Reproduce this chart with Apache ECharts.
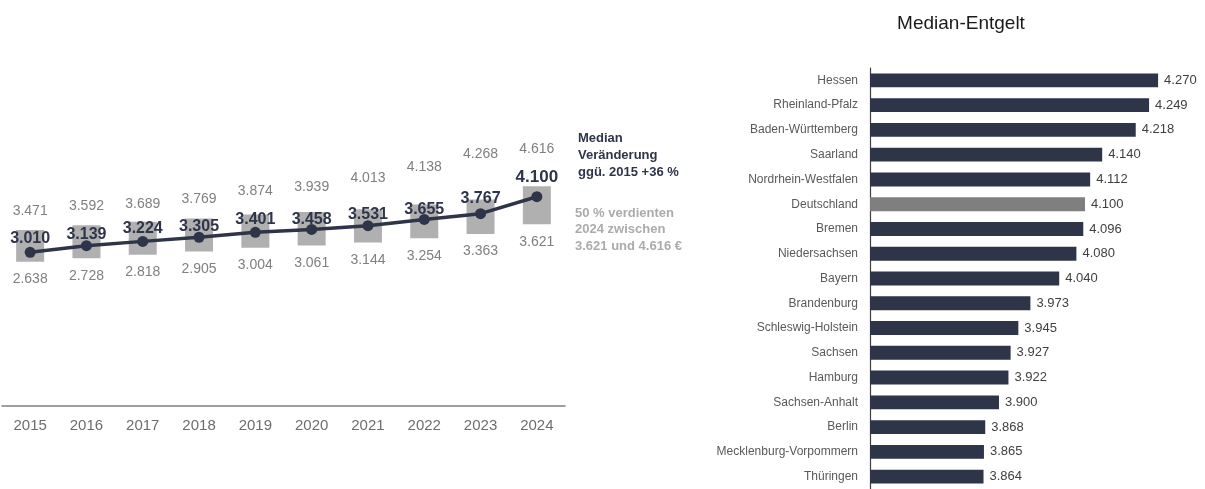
<!DOCTYPE html>
<html>
<head>
<meta charset="utf-8">
<script src="https://cdn.jsdelivr.net/npm/echarts@6/dist/echarts.min.js"></script>
<style>
  html, body { margin: 0; padding: 0; background: #fff; }
  #chart { width: 1205px; height: 489px; }
</style>
</head>
<body>
<div id="chart"></div>
<script>
// Entwicklung Median-Entgelt 2015-2024 (links)
var jahre   = ['2015', '2016', '2017', '2018', '2019', '2020', '2021', '2022', '2023', '2024'];
var median  = [3010, 3139, 3224, 3305, 3401, 3458, 3531, 3655, 3767, 4100];
var quartil1 = [2638, 2728, 2818, 2905, 3004, 3061, 3144, 3254, 3363, 3621];
var quartil3 = [3471, 3592, 3689, 3769, 3874, 3939, 4013, 4138, 4268, 4616];

// Median-Entgelt nach Bundesland (rechts)
var laender = ['Hessen', 'Rheinland-Pfalz', 'Baden-Württemberg', 'Saarland', 'Nordrhein-Westfalen',
  'Deutschland', 'Bremen', 'Niedersachsen', 'Bayern', 'Brandenburg', 'Schleswig-Holstein',
  'Sachsen', 'Hamburg', 'Sachsen-Anhalt', 'Berlin', 'Mecklenburg-Vorpommern', 'Thüringen'];
var laenderWerte = [4270, 4249, 4218, 4140, 4112, 4100, 4096, 4080, 4040, 3973, 3945,
  3927, 3922, 3900, 3868, 3865, 3864];

// Beschriftungen im Original von Hand verschoben (Abstand in px)
var abstandQ3 = [12, 12, 11, 12, 16.5, 18, 24.5, 30, 38, 30];
var abstandMedian = [0.5, -2.5, -1, -3, -1, -4, -2, -4, 2, 5];

var navy = '#2e3549';
var font = 'Liberation Sans, Arial, sans-serif';
var narrow = '"Liberation Sans Narrow", "Arial Narrow", Liberation Sans, Arial, sans-serif';

// 1234 -> "1.234"
function fmt(v) {
  return String(v).replace(/\B(?=(\d{3})+(?!\d))/g, '.');
}

var chart = echarts.init(document.getElementById('chart'));

var boxSpanne = quartil3.map(function (v, i) { return v - quartil1[i]; });

var option = {
  animation: false,
  textStyle: { fontFamily: font },
  title: {
    text: 'Median-Entgelt',
    left: 956, top: 9,
    textAlign: 'center',
    textStyle: { fontSize: 19, fontWeight: 'normal', color: '#1a1a1a', fontFamily: font }
  },
  grid: [
    // Linie (Median), 0 liegt auf der Achse
    { left: 2, width: 563, top: 99.8, height: 306 },
    // Boxen Q1..Q3, eigene Skala
    { left: 2, width: 563, top: 57.4, height: 304.8 },
    // Bundesländer
    { left: 870, right: 34, top: 68, bottom: -2 }
  ],
  xAxis: [
    {
      gridIndex: 0, type: 'category', data: jahre,
      axisLine: { lineStyle: { color: '#7f7f7f', width: 1.5 } },
      axisTick: { show: false },
      axisLabel: { color: '#6d6d6d', fontSize: 15, margin: 13, fontFamily: font }
    },
    {
      gridIndex: 1, type: 'category', data: jahre, show: false
    },
    {
      gridIndex: 2, type: 'value', min: 3600, max: 4300, show: false
    }
  ],
  yAxis: [
    { gridIndex: 0, type: 'value', min: 0, max: 6000, show: false },
    { gridIndex: 1, type: 'value', min: 0, max: 8000, show: false },
    {
      gridIndex: 2, type: 'category', data: laender, inverse: true,
      axisLine: { lineStyle: { color: '#404040', width: 1.2 } },
      axisTick: { show: false },
      axisLabel: { color: '#595959', fontSize: 12, margin: 12, fontFamily: font }
    }
  ],
  series: [
    {
      // unsichtbare Basis bis Q1, Beschriftung Q1 darunter
      type: 'bar', xAxisIndex: 1, yAxisIndex: 1, stack: 'box',
      data: quartil1, barWidth: 28,
      itemStyle: { color: 'rgba(0,0,0,0)' },
      label: {
        show: true, position: 'insideTop', distance: 10.5,
        color: '#808080', fontSize: 14, fontFamily: narrow,
        formatter: function (p) { return fmt(p.value); }
      },
      silent: true
    },
    {
      // graue Box Q1..Q3, Beschriftung Q3 darüber
      type: 'bar', xAxisIndex: 1, yAxisIndex: 1, stack: 'box',
      data: boxSpanne.map(function (v, i) {
        return { value: v, label: { distance: abstandQ3[i] } };
      }),
      barWidth: 28,
      itemStyle: { color: '#b0b0b0' },
      label: {
        show: true, position: 'top',
        color: '#808080', fontSize: 14, fontFamily: narrow,
        formatter: function (p) { return fmt(quartil3[p.dataIndex]); }
      }
    },
    {
      type: 'line', xAxisIndex: 0, yAxisIndex: 0,
      data: median.map(function (v, i) {
        var item = { value: v, label: { distance: abstandMedian[i] } };
        if (i === median.length - 1) {
          item.label.fontSize = 17;
          item.label.fontFamily = font;
        }
        return item;
      }),
      symbol: 'circle', symbolSize: 11,
      lineStyle: { color: navy, width: 3.5 },
      itemStyle: { color: navy },
      label: {
        show: true, position: 'top',
        color: navy, fontSize: 16, fontWeight: 'bold', fontFamily: narrow,
        formatter: function (p) { return fmt(p.value); }
      },
      z: 5
    },
    {
      type: 'bar', xAxisIndex: 2, yAxisIndex: 2,
      data: laenderWerte.map(function (v, i) {
        return laender[i] === 'Deutschland' ? { value: v, itemStyle: { color: '#7f7f7f' } } : v;
      }),
      barCategoryGap: '44%',
      itemStyle: { color: navy },
      label: {
        show: true, position: 'right', distance: 6,
        color: '#404040', fontSize: 13, fontFamily: font,
        formatter: function (p) { return fmt(p.value); }
      }
    }
  ],
  graphic: [
    {
      type: 'text', left: 578, top: 130,
      style: {
        text: 'Median\nVeränderung\nggü. 2015 +36 %',
        font: 'bold 13px ' + font, fill: navy, lineHeight: 17
      }
    },
    {
      type: 'text', left: 575, top: 205,
      style: {
        text: '50 % verdienten\n2024 zwischen\n3.621 und 4.616 €',
        font: 'bold 13px ' + font, fill: '#ababab', lineHeight: 16.5
      }
    },
    {
      // Text rechts abgeschnitten wie im Original
      type: 'rect', shape: { x: 690, y: 120, width: 10, height: 140 },
      style: { fill: '#fff' }, z: 10
    }
  ]
};

chart.setOption(option);
</script>
</body>
</html>
